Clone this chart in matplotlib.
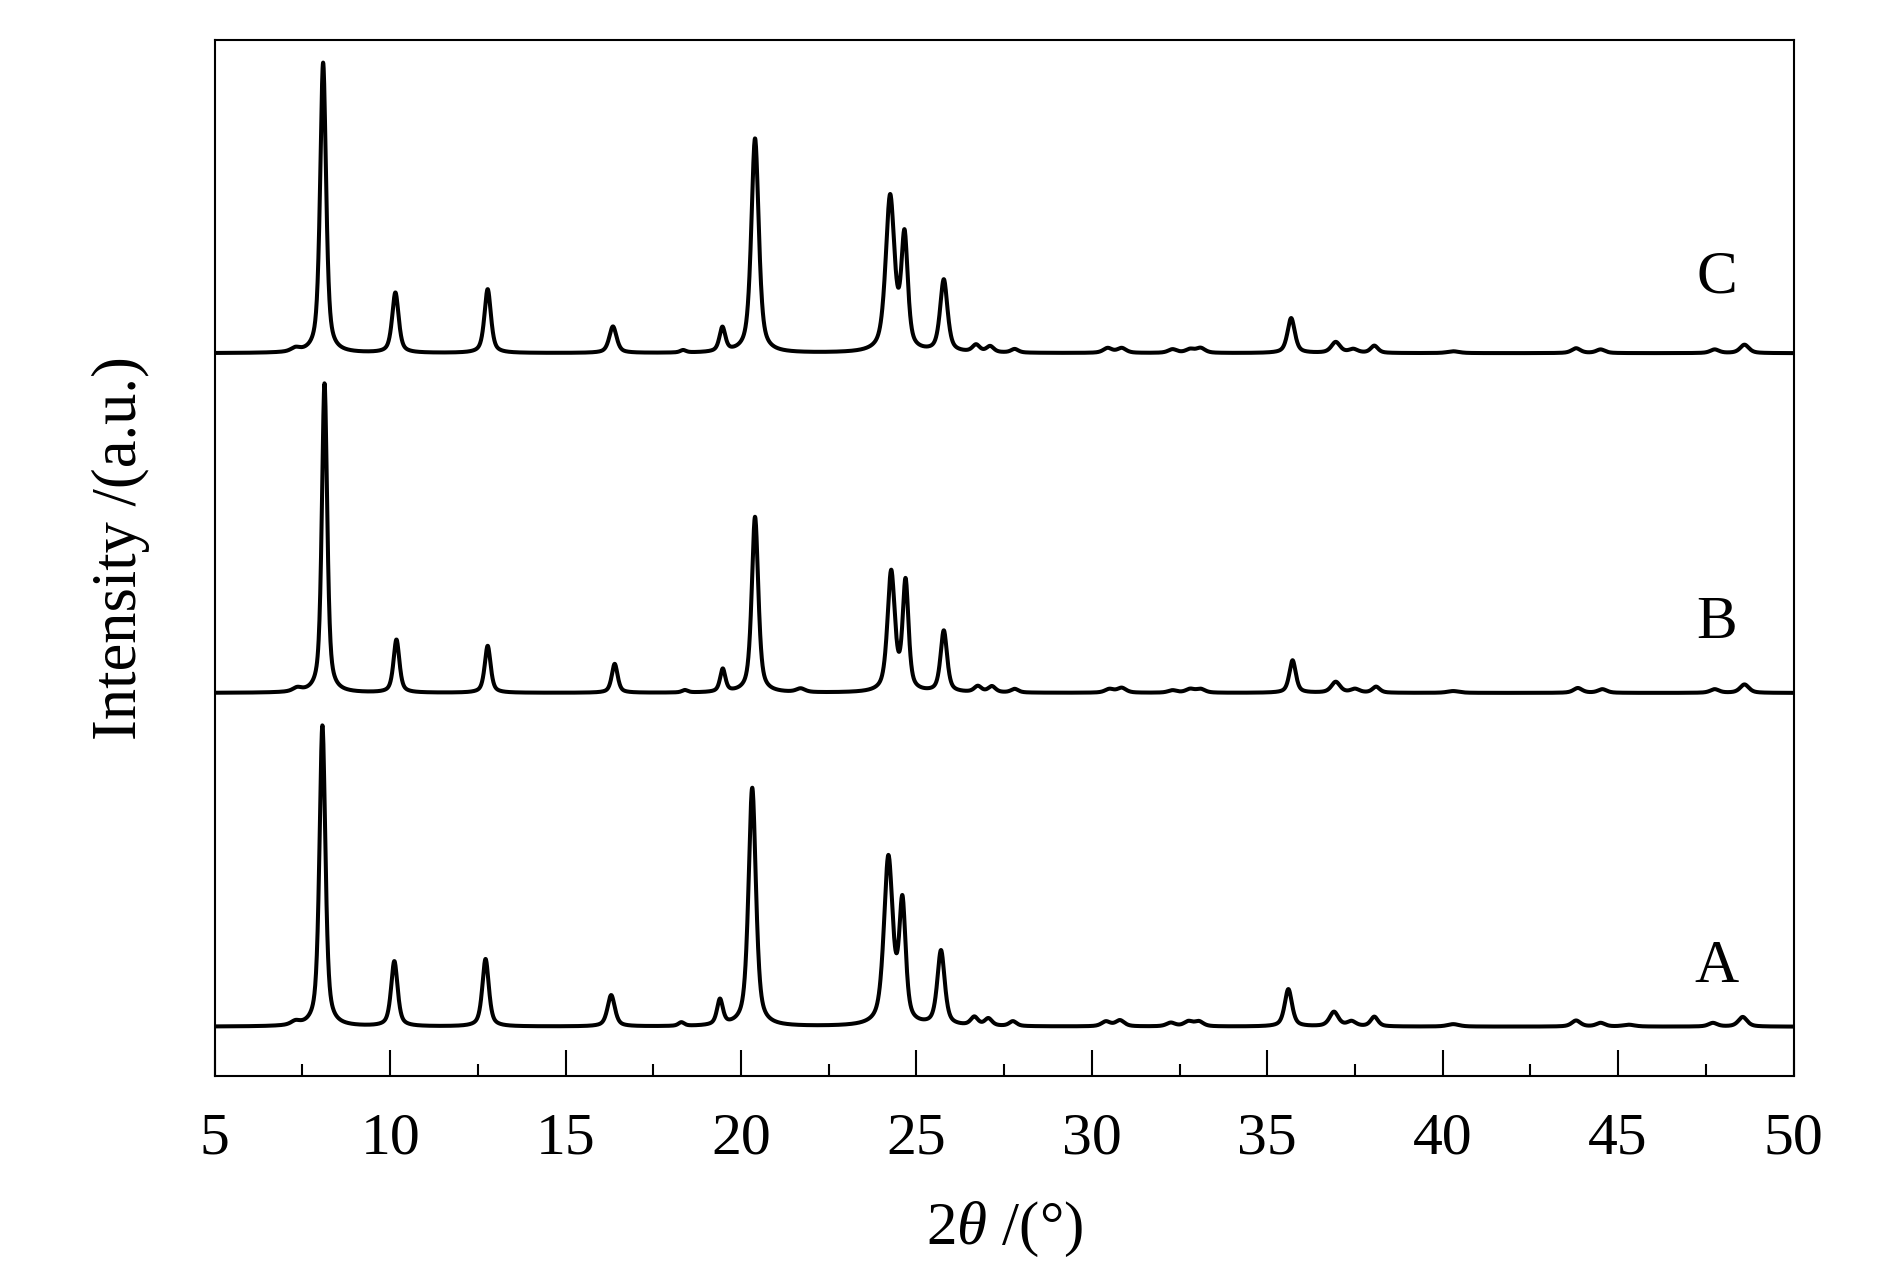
import numpy as np
import matplotlib
matplotlib.use('Agg')
import matplotlib.pyplot as plt
from matplotlib.ticker import MultipleLocator

plt.rcParams['font.family'] = ['Liberation Serif', 'DejaVu Serif']
plt.rcParams['mathtext.fontset'] = 'custom'
plt.rcParams['mathtext.rm'] = 'Liberation Serif'
plt.rcParams['mathtext.it'] = 'Liberation Serif:italic'

# 读图得到的峰位(2θ)、峰高、半高宽，每个样品一组
a_pos = [7.3, 8.07, 10.12, 12.72, 16.3, 18.3, 19.4, 20.32, 24.2, 24.6, 25.7, 26.65, 27.05, 27.75,
         30.4, 30.8, 32.25, 32.75, 33.05, 35.6, 36.9, 37.4, 38.05, 40.3, 43.8, 44.5, 45.3, 47.7, 48.55]
a_amp = [3, 250, 54, 56, 26, 3, 21, 198, 138, 98, 62, 7, 6, 4,
         4, 5, 3, 4, 4, 31, 12, 4, 8, 2, 5, 3, 1.5, 3, 8]
a_fwhm = [0.3, 0.2, 0.22, 0.22, 0.25, 0.2, 0.2, 0.25, 0.3, 0.22, 0.25, 0.25, 0.25, 0.25,
          0.3, 0.3, 0.3, 0.3, 0.3, 0.25, 0.3, 0.3, 0.25, 0.4, 0.3, 0.3, 0.4, 0.3, 0.3]

b_pos = [7.35, 8.13, 10.18, 12.78, 16.4, 18.4, 19.48, 20.4, 21.7, 24.28, 24.69, 25.78, 26.75, 27.15, 27.8,
         30.5, 30.85, 32.3, 32.8, 33.1, 35.72, 36.95, 37.5, 38.1, 40.3, 43.85, 44.55, 47.75, 48.6]
b_amp = [3, 257, 44, 39, 24, 2, 19, 146, 3, 99, 90, 51, 5, 5, 3,
         3, 4, 2, 3, 3, 27, 9, 3, 5, 1.5, 4, 3, 3, 7]
b_fwhm = [0.3, 0.18, 0.2, 0.2, 0.2, 0.2, 0.18, 0.22, 0.3, 0.25, 0.2, 0.22, 0.25, 0.25, 0.25,
          0.3, 0.3, 0.3, 0.3, 0.3, 0.22, 0.3, 0.3, 0.25, 0.4, 0.3, 0.3, 0.3, 0.3]

c_pos = [7.3, 8.09, 10.15, 12.78, 16.35, 18.35, 19.47, 20.4, 24.25, 24.66, 25.78, 26.7, 27.1, 27.8,
         30.45, 30.85, 32.3, 32.8, 33.1, 35.68, 36.95, 37.45, 38.05, 40.3, 43.8, 44.5, 47.75, 48.6]
c_amp = [3, 241, 50, 53, 22, 2, 20, 178, 128, 93, 60, 6, 5, 3,
         4, 4, 3, 3, 4, 29, 9, 3, 6, 1.5, 4, 3, 3, 7]
c_fwhm = [0.3, 0.2, 0.22, 0.22, 0.25, 0.2, 0.2, 0.25, 0.3, 0.22, 0.25, 0.25, 0.25, 0.25,
          0.3, 0.3, 0.3, 0.3, 0.3, 0.25, 0.3, 0.3, 0.25, 0.4, 0.3, 0.3, 0.3, 0.3]

labels = ['A', 'B', 'C']
offsets = [41, 318, 600]
label_x = 47.8
label_y = [90, 376, 663]

x_ticks = [5, 10, 15, 20, 25, 30, 35, 40, 45, 50]


def pattern(tt, pos, amp, fwhm, eta=0.6):
    """伪Voigt峰叠加"""
    y = np.zeros_like(tt)
    for p, a, w in zip(pos, amp, fwhm):
        hw = w / 2
        d = (tt - p) / hw
        y += a * (eta / (1 + d ** 2) + (1 - eta) * np.exp(-np.log(2) * d ** 2))
    return y


tt = np.linspace(5, 50, 6001)
series = [(a_pos, a_amp, a_fwhm), (b_pos, b_amp, b_fwhm), (c_pos, c_amp, c_fwhm)]

fig = plt.figure(figsize=(18.9, 12.76), dpi=100)
ax = fig.add_axes([0.1136, 0.1567, 0.8354, 0.812])

for (pos, amp, fwhm), off, lab, ly in zip(series, offsets, labels, label_y):
    ax.plot(tt, pattern(tt, pos, amp, fwhm) + off, color='black', lw=2.9)
    ax.text(label_x, ly, lab, ha='center', va='center', fontsize=44)

ax.set_xlim(5, 50)
ax.set_ylim(0, 860)
ax.set_xticks(x_ticks)
ax.xaxis.set_minor_locator(MultipleLocator(2.5))
ax.set_yticks([])
ax.tick_params(axis='x', which='major', direction='in', length=19, width=1.5, pad=26, labelsize=43)
ax.tick_params(axis='x', which='minor', direction='in', length=9, width=1.5)
for sp in ax.spines.values():
    sp.set_linewidth(1.5)

ax.set_xlabel(r'2$\mathit{\theta}$ /(°)', fontsize=44)
ax.xaxis.set_label_coords(0.5, -0.148)
ax.xaxis.label.set_verticalalignment('center')
ax.set_ylabel('Intensity /(a.u.)', fontsize=45)
ax.yaxis.set_label_coords(-0.0596, 0.51)
ax.yaxis.label.set_verticalalignment('center')

fig.savefig('out.png', dpi=100)
